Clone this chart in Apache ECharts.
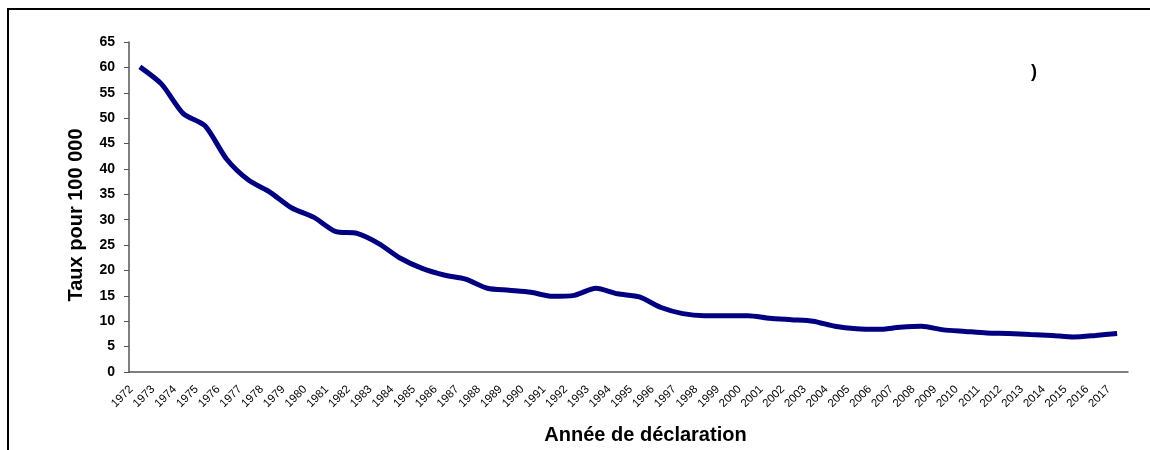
<!DOCTYPE html>
<html>
<head>
<meta charset="utf-8">
<script src="https://cdn.jsdelivr.net/npm/echarts@6/dist/echarts.min.js"></script>
<style>
html,body{margin:0;padding:0;background:#fff;}
#chart{width:1150px;height:450px;}
</style>
</head>
<body>
<div id="chart"></div>
<script>
const years = ['1972','1973','1974','1975','1976','1977','1978','1979','1980','1981','1982','1983','1984','1985','1986','1987','1988','1989','1990','1991','1992','1993','1994','1995','1996','1997','1998','1999','2000','2001','2002','2003','2004','2005','2006','2007','2008','2009','2010','2011','2012','2013','2014','2015','2016','2017'];
const rates = [60.1,56.7,50.9,48.5,41.9,37.8,35.4,32.3,30.5,27.7,27.3,25.3,22.4,20.4,19.1,18.3,16.5,16.1,15.7,14.9,15.1,16.5,15.4,14.8,12.7,11.5,11.1,11.1,11.1,10.6,10.3,10.0,9.0,8.5,8.4,8.8,9.0,8.3,8.0,7.7,7.6,7.4,7.2,6.9,7.2,7.6];
const yTicks = {min:0, max:65, interval:5};
const yTitle = 'Taux pour 100 000';
const xTitle = 'Année de déclaration';

const chart = echarts.init(document.getElementById('chart'));
chart.setOption({
  animation:false,
  backgroundColor:'#fff',
  textStyle:{fontFamily:'Liberation Sans, Arial, sans-serif'},
  graphic:[
    {type:'rect', shape:{x:8, y:9, width:1200, height:500}, style:{fill:'none', stroke:'#000', lineWidth:2}},
    {type:'text', left:1031, top:63, style:{text:')', font:'bold 18px Liberation Sans', fill:'#000'}}
  ],
  grid:{left:129, right:22, top:42, bottom:76, containLabel:false},
  xAxis:{
    type:'category', data:years, boundaryGap:true,
    name:xTitle, nameLocation:'middle', nameGap:53,
    nameTextStyle:{fontSize:20, fontWeight:'bold', color:'#000', padding:[0,0,0,34]},
    axisLine:{lineStyle:{color:'#555', width:1.5}},
    axisTick:{alignWithLabel:false, length:5, lineStyle:{color:'#555'}},
    axisLabel:{rotate:45, fontSize:11.5, color:'#000', margin:7, interval:0, padding:[0,12,0,0]}
  },
  yAxis:{
    type:'value', min:yTicks.min, max:yTicks.max, interval:yTicks.interval,
    name:yTitle, nameLocation:'middle', nameGap:43,
    nameTextStyle:{fontSize:20, fontWeight:'bold', color:'#000', padding:[0,16,0,0]},
    axisLine:{show:true, lineStyle:{color:'#555', width:1.5}},
    axisTick:{show:true, length:5, lineStyle:{color:'#555'}},
    axisLabel:{fontSize:14, fontWeight:'bold', color:'#000', margin:14},
    splitLine:{show:false}
  },
  series:[{
    type:'line', data:rates, smooth:0.25, symbol:'none',
    lineStyle:{color:'#000080', width:5}
  }]
});
</script>
</body>
</html>
